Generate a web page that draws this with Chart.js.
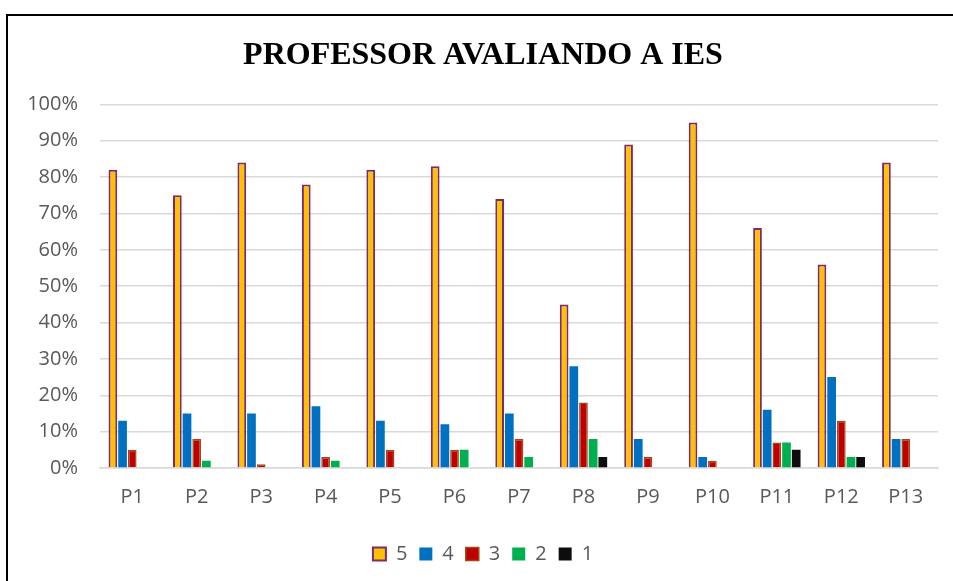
<!DOCTYPE html>
<html>
<head>
<meta charset="utf-8">
<script src="https://cdn.jsdelivr.net/npm/chart.js@4.4.0/dist/chart.umd.min.js"></script>
<style>
   html, body { margin: 0; padding: 0; background: #fff; }
   .frame {
      position: absolute; left: 6px; top: 14px;
      border-left: 2px solid #000; border-top: 2px solid #000;
      width: 945px; height: 567px;
   }
   canvas { display: block; }
</style>
</head>
<body>
<div class="frame">
   <canvas id="profChart" width="945" height="565"></canvas>
</div>
<script>
// questions P1..P13 and share of answers (%) per score
const questions = ['P1', 'P2', 'P3', 'P4', 'P5', 'P6', 'P7', 'P8', 'P9', 'P10', 'P11', 'P12', 'P13'];
const nota5 = [82, 75, 84, 78, 82, 83, 74, 45, 89, 95, 66, 56, 84];
const nota4 = [13, 15, 15, 17, 13, 12, 15, 28, 8, 3, 16, 25, 8];
const nota3 = [5, 8, 1, 3, 5, 5, 8, 18, 3, 2, 7, 13, 8];
const nota2 = [0, 2, 0, 2, 0, 5, 3, 8, 0, 0, 7, 3, 0];
const nota1 = [0, 0, 0, 0, 0, 0, 0, 3, 0, 0, 5, 3, 0];
const yTicks = [0, 10, 20, 30, 40, 50, 60, 70, 80, 90, 100];

const tickFont = { family: '"Open Sans", "Liberation Sans", sans-serif', size: 20 };
const gridColor = '#d9d9d9';

const ctx = document.getElementById('profChart').getContext('2d');
const myChart = new Chart(ctx, {
   type: 'bar',
   data: {
      labels: questions,
      datasets: [
         { label: '5', data: nota5, backgroundColor: '#ffc000', borderColor: '#7b2a6f', borderWidth: 2 },
         { label: '4', data: nota4, backgroundColor: '#0070c0', borderColor: '#0070c0', borderWidth: 0 },
         { label: '3', data: nota3, backgroundColor: '#c00000', borderColor: '#9e4a16', borderWidth: 1.5 },
         { label: '2', data: nota2, backgroundColor: '#00b050', borderColor: '#00b050', borderWidth: 0 },
         { label: '1', data: nota1, backgroundColor: '#0d0d0d', borderColor: '#0d0d0d', borderWidth: 0 }
      ]
   },
   options: {
      responsive: false,
      animation: false,
      devicePixelRatio: 1,
      layout: { padding: { left: 20, right: 15, top: 0, bottom: 7 } },
      datasets: {
         bar: { categoryPercentage: 0.75, barPercentage: 0.9 }
      },
      plugins: {
         title: {
            display: true,
            text: 'PROFESSOR AVALIANDO A IES',
            color: '#000',
            font: { family: '"Liberation Serif", "Times New Roman", serif', size: 32, weight: 'bold' },
            padding: { top: 21, bottom: 29 }
         },
         legend: {
            position: 'bottom',
            labels: {
               color: '#595959',
               font: tickFont,
               boxWidth: 13,
               boxHeight: 13,
               padding: 12
            }
         },
         tooltip: { enabled: false }
      },
      scales: {
         x: {
            grid: { display: false, drawTicks: false },
            border: { color: gridColor, width: 1.5 },
            ticks: { color: '#595959', font: tickFont, padding: 17 },
            afterFit: (scale) => { scale.height = 64; }
         },
         y: {
            min: 0,
            max: 100,
            afterBuildTicks: (scale) => { scale.ticks = yTicks.map(v => ({ value: v })); },
            grid: { color: gridColor, lineWidth: 1.5, drawTicks: false },
            border: { display: false },
            ticks: { color: '#595959', font: tickFont, padding: 22, callback: (v) => v + '%' },
            afterFit: (scale) => { scale.width = 72; }
         }
      }
   }
});
</script>
</body>
</html>
